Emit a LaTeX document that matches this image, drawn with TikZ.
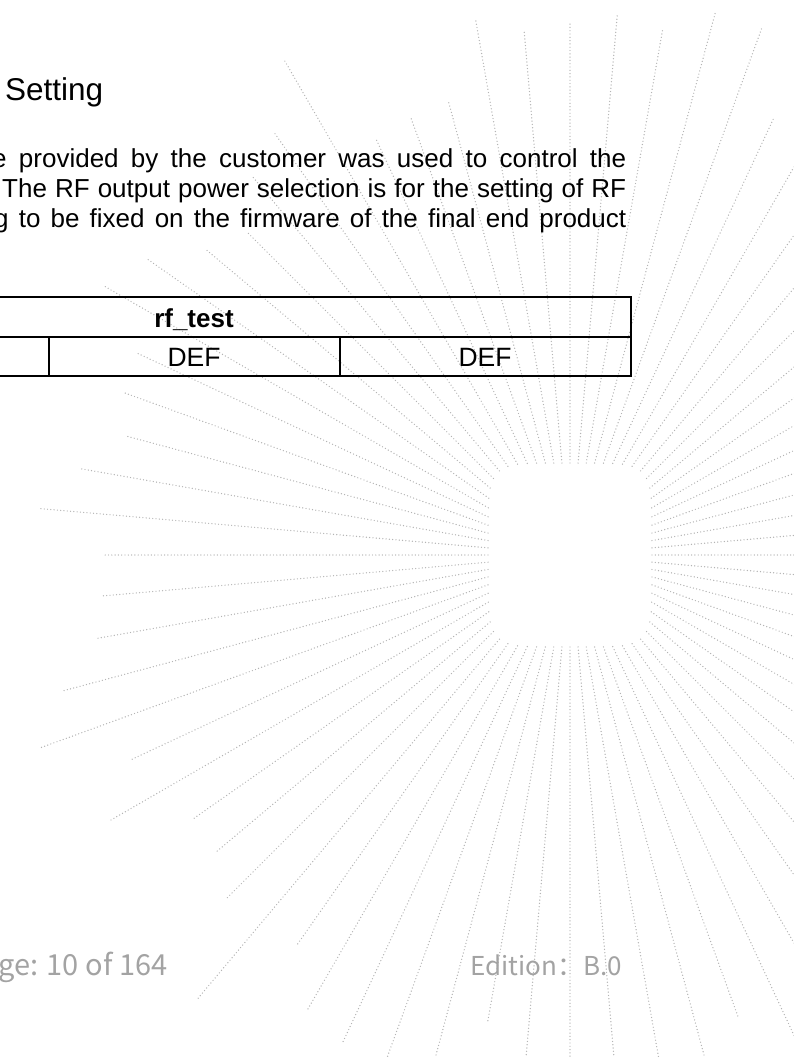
\documentclass[tikz,border=0pt]{standalone}
\usepackage{fontspec}
\setmainfont{Liberation Sans}
\newfontfamily\cjk{Noto Sans CJK SC}
\usetikzlibrary{calc}
\definecolor{raygray}{HTML}{B4B4B4}
\definecolor{footgray}{HTML}{A3A3A3}
\tikzset{
x=1pt, y=-1pt, % one unit is one pixel of the page, y runs down
ray/.style={raygray, line width=1.4pt, line cap=round, dash pattern=on 0pt off 3.3pt}, % dotted rays of the watermark
body/.style={anchor=base west, inner sep=0pt, font=\fontsize{26}{30}\selectfont}, % paragraph lines
title/.style={anchor=base west, inner sep=0pt, font=\fontsize{31.5}{36}\selectfont}, % section heading
rule/.style={line width=1.8pt}, % table lines
cell/.style={anchor=base, inner sep=0pt, font=\fontsize{26.5}{30}\selectfont}, % table entries
headcell/.style={cell, font=\fontsize{26}{30}\selectfont\bfseries},
foot/.style={anchor=base west, inner sep=0pt, text=footgray, font=\cjk\fontsize{29}{32}\selectfont}, % page footer
}
\begin{document}
\begin{tikzpicture}
\useasboundingbox (0,0) rectangle (794,1057);
\clip (0,0) rectangle (794,1057);

% watermark: rays round a rounded square
\coordinate (sun) at (570,555);
\pgfmathsetseed{11}
\foreach \a in {0,5,...,355}{
  \pgfmathsetmacro{\rin}{82/pow(pow(abs(cos(\a)),6)+pow(abs(sin(\a))*82/92,6),1/6)}
  \pgfmathsetmacro{\rout}{450+140*rnd}
  \draw[ray] ($(sun)+(\a:\rin)$) -- ($(sun)+(\a:\rout)$);
}

% heading and text
\node[title] (head) at (5,100) {Setting};
\node[body] (line1) at (-8,167) {\makebox[634pt][s]{e provided by the customer was used to control the}};
\node[body] (line2) at (2,197) {\makebox[624pt][s]{The RF output power selection is for the setting of RF}};
\node[body] (line3) at (-6,227) {\makebox[632pt][s]{g to be fixed on the firmware of the final end product}};

% table
\draw[rule] (-5,297) -- (631,297) -- (631,376) -- (-5,376);
\draw[rule] (-5,337) -- (631,337);
\draw[rule] (49,337) -- (49,376) (340,337) -- (340,376);
\node[headcell] (rftest) at (194,327) {rf\_test};
\node[cell] (def1) at (194,366) {DEF};
\node[cell] (def2) at (485,366) {DEF};

% footer
\node[foot] (page) at (-2,975) {ge: 10 of 164};
\node[foot, font=\cjk\fontsize{26}{30}\selectfont] (edition) at (470,975) {Edition：B.0};
\end{tikzpicture}
\end{document}
